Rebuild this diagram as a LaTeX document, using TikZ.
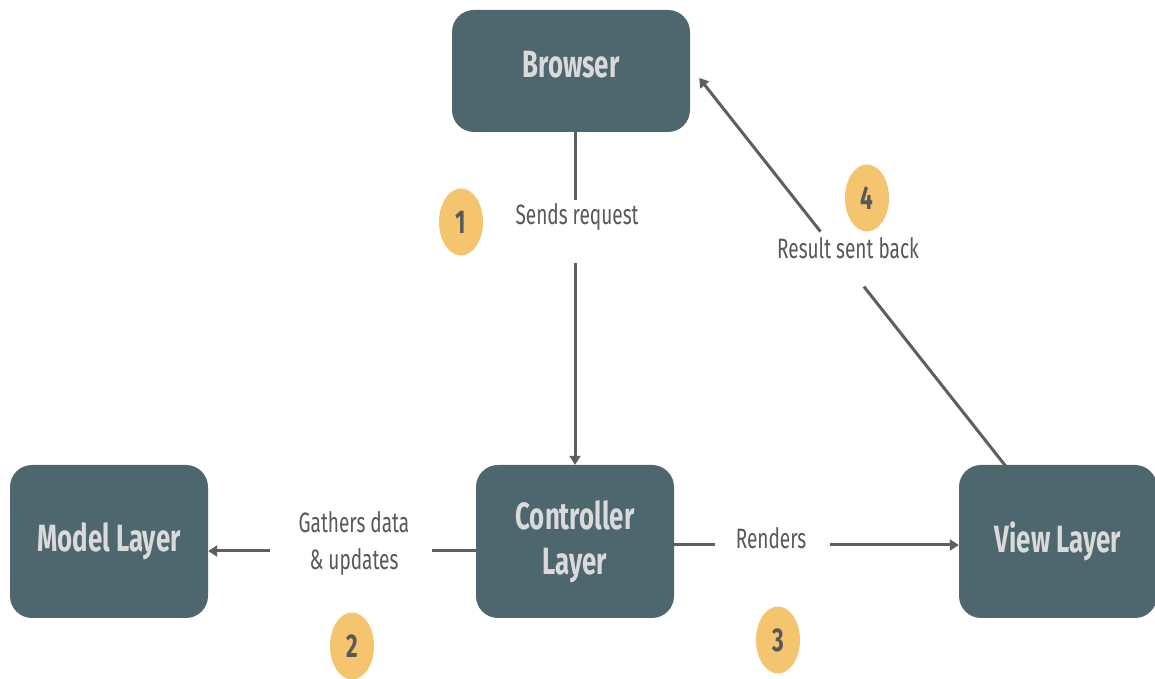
\documentclass[tikz,border=0pt]{standalone}
\usepackage{fontspec}
\setmainfont[FakeStretch=0.68]{Fira Sans}
\usetikzlibrary{arrows.meta,shapes.geometric,calc}
\definecolor{boxfill}{HTML}{4E676F}
\definecolor{boxtext}{HTML}{DADADA}
\definecolor{linecol}{HTML}{5E5E5E}
\definecolor{labeltext}{HTML}{585858}
\definecolor{badge}{HTML}{F5C46F}
\tikzset{
  layer/.style={rectangle, rounded corners=22pt, fill=boxfill, text=boxtext,
    font=\fontsize{38}{45}\selectfont\bfseries, align=center, inner sep=0pt},
  flow/.style={draw=linecol, line width=3pt},
  flowarrow/.style={flow, -{Triangle[length=9pt,width=11pt]}},
  steplabel/.style={text=labeltext, font=\fontsize{28}{37}\selectfont, align=center},
  badgenode/.style={ellipse, fill=badge, minimum width=44pt, minimum height=67pt,
    inner sep=0pt, text=labeltext, font=\fontsize{33}{36}\selectfont\bfseries}
}
\begin{document}
\begin{tikzpicture}[x=1pt,y=1pt]
\useasboundingbox (0,0) rectangle (1155,679);

% layers
\node[layer, minimum width=238pt, minimum height=122pt] (browser) at (571,608) {\raisebox{14pt}{Browser}};
\node[layer, minimum width=198pt, minimum height=153pt] (model) at (109,137.5) {Model Layer};
\node[layer, minimum width=198pt, minimum height=153pt] (controller) at (575,137.5) {Controller\\Layer};
\node[layer, minimum width=198pt, minimum height=153pt] (view) at (1058,137.5) {View Layer};

% anchor points of the connectors
\coordinate (bs) at (browser.south -| controller.north);
\coordinate (cw) at ([yshift=-9.5pt]controller.west);
\coordinate (mw) at (cw -| model.east);
\coordinate (ce) at ([yshift=-3.5pt]controller.east);
\coordinate (ve) at (ce -| view.west);
\coordinate (vt) at ([xshift=-51pt,yshift=-3pt]view.north);
\coordinate (be) at ([xshift=9pt,yshift=-7pt]browser.east);

% 1: browser -> controller
\draw[flow] (bs) -- ($(bs)!0.204!(controller.north)$);
\draw[flowarrow] ($(bs)!0.393!(controller.north)$) -- (controller.north);
\node[steplabel] (lsend) at (577,462) {Sends request};

% 2: controller -> model
\draw[flow] (cw) -- ($(cw)!0.164!(mw)$);
\draw[flowarrow] ($(cw)!0.769!(mw)$) -- (mw);
\node[steplabel] (lgather) at (354,135.5) {Gathers data\\\& updates};

% 3: controller -> view
\draw[flow] (ce) -- ($(ce)!0.144!(ve)$);
\draw[flowarrow] ($(ce)!0.546!(ve)$) -- (ve);
\node[steplabel] (lrender) at (771,141) {Renders};

% 4: view -> browser
\draw[flow] (vt) -- ($(vt)!0.465!(be)$);
\draw[flowarrow] ($(vt)!0.606!(be)$) -- (be);
\node[steplabel] (lresult) at (848,431) {Result sent back};

% step badges
\node[badgenode] (b1) at (461,457) {1};
\node[badgenode] (b2) at (352,33) {2};
\node[badgenode] (b3) at (778,39) {3};
\node[badgenode] (b4) at (867,481) {4};
\end{tikzpicture}
\end{document}
